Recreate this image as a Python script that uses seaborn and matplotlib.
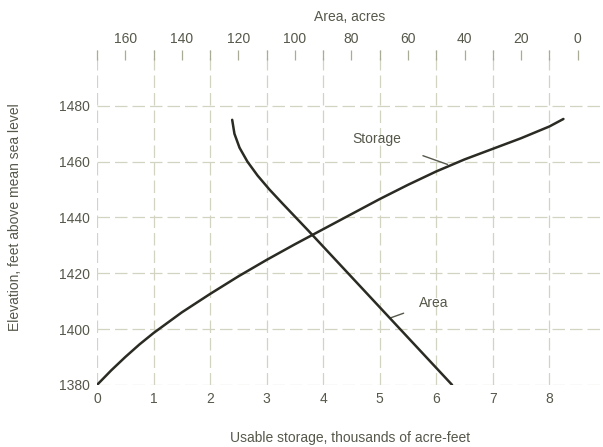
import pandas as pd
import seaborn as sns
import matplotlib.pyplot as plt
from matplotlib.ticker import MultipleLocator

# Storage curve: usable storage (thousand acre-ft) vs elevation (ft)
storage_kaf = [0.0, 0.25, 0.5, 0.75, 1.0, 1.5, 2.0, 2.5, 3.0, 3.5, 4.0, 4.5, 5.0, 5.5, 6.0, 6.5, 7.0, 7.5, 8.0, 8.25]
storage_elev = [1380, 1385.2, 1390, 1394.5, 1398.6, 1406, 1412.6, 1418.9, 1424.8, 1430.4, 1435.8, 1441.2, 1446.6, 1451.7, 1456.5, 1460.8, 1464.6, 1468.4, 1472.6, 1475.3]

# Area curve: area (acres) vs elevation (ft)
area_acres = [44.4, 53.6, 62.8, 72.0, 81.2, 90.4, 95.0, 99.7, 104.4, 109.0, 113.2, 116.8, 119.6, 121.4, 122.2]
area_elev = [1380, 1390, 1400, 1410, 1420, 1430, 1435, 1440, 1445, 1450, 1455, 1460, 1465, 1470, 1475]

bottom_ticks = list(range(0, 9))
top_ticks = list(range(0, 180, 20))
elev_ticks = list(range(1380, 1500, 20))

TEXT = "#55584a"
GRID = "#d2d3c0"
LINE = "#2b2b24"

sns.set_theme(style="white")
plt.rcParams["font.family"] = ["Liberation Sans", "DejaVu Sans"]

fig = plt.figure(figsize=(6.03, 4.47), dpi=100)
ax = fig.add_axes([0.161, 0.139, 0.839, 0.749])

storage_df = pd.DataFrame({"storage": storage_kaf, "elev": storage_elev})
sns.lineplot(data=storage_df, x="storage", y="elev", sort=False, color=LINE, lw=1.8, ax=ax)

ax.set_xlim(0, 8.95)
ax.set_ylim(1380, 1500)
ax.set_xticks(bottom_ticks)
ax.set_yticks(elev_ticks)
ax.grid(True, linestyle=(0, (10, 4)), color=GRID, lw=0.9)
ax.tick_params(axis="both", length=0, labelsize=10, colors=TEXT)
ax.tick_params(axis="x", pad=5)
ax.tick_params(axis="y", pad=5)
for s in ax.spines.values():
    s.set_visible(False)
ax.set_xlabel("Usable storage, thousands of acre-feet", color=TEXT, fontsize=10, labelpad=18)
ax.set_ylabel("Elevation, feet above mean sea level", color=TEXT, fontsize=10, labelpad=27)

# Top axis: area, reversed
ax2 = ax.twiny()
area_df = pd.DataFrame({"area": area_acres, "elev": area_elev})
sns.lineplot(data=area_df, x="area", y="elev", sort=False, color=LINE, lw=1.8, ax=ax2)
ax2.set_xlim(170, 170 - 8.95 * 20)
ax2.set_xticks(top_ticks)
ax2.xaxis.set_minor_locator(MultipleLocator(10))
ax2.tick_params(axis="x", which="both", direction="in", length=7, width=0.9,
                color="#a9ab96", labelsize=10, labelcolor=TEXT, pad=3)
for s in ax2.spines.values():
    s.set_visible(False)
ax2.set_xlabel("Area, acres", color=TEXT, fontsize=10, labelpad=8)
ax2.set_ylabel("")

# Curve labels with leader lines
ax.annotate("Storage", xy=(6.2, 1459), xytext=(4.95, 1468),
            ha="center", va="center", color=TEXT, fontsize=10,
            arrowprops=dict(arrowstyle="-", color=TEXT, lw=1.0, shrinkA=14, shrinkB=0))
ax.annotate("Area", xy=(5.19, 1404), xytext=(5.95, 1409.5),
            ha="center", va="center", color=TEXT, fontsize=10,
            arrowprops=dict(arrowstyle="-", color=TEXT, lw=1.0, shrinkA=9, shrinkB=0))

fig.savefig("out.png", dpi=100)
